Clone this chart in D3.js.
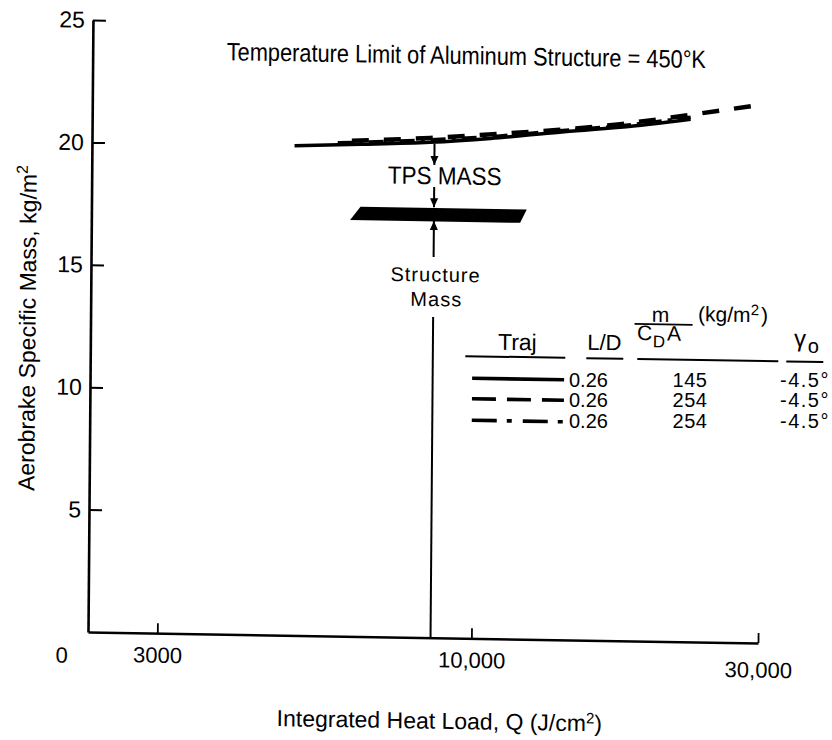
<!DOCTYPE html>
<html><head><meta charset="utf-8">
<script src="https://cdn.jsdelivr.net/npm/d3@7"></script>
<style>
body{margin:0;background:#fff}
svg text{font-family:"Liberation Sans",Arial,Helvetica,sans-serif;fill:#000}
</style>
</head><body>
<svg id="chart" width="832" height="740"></svg>
<script>
// ---------------- data ----------------
const xTickValues = [3000, 10000, 30000];
const xTickLabels = ["3000", "10,000", "30,000"];
const yTickValues = [5, 10, 15, 20, 25];

const solidQ = [5000, 6450, 8400, 10600, 13800, 17400, 22800];
const solidM = [20.0, 20.1, 20.23, 20.43, 20.73, 20.97, 21.35];
const dashedQ = [5900, 8400, 11000, 13800, 17400, 22800, 28700];
const dashedM = [20.21, 20.41, 20.63, 20.83, 21.1, 21.53, 21.92];
const dashDotQ = [5900, 8400, 11000, 13800, 17400, 22800];
const dashDotM = [20.15, 20.33, 20.54, 20.79, 21.03, 21.43];

const bandQ = [6450, 12200, 11900, 6200];
const bandM = [17.55, 17.55, 17.0, 17.0];

const designQ = 8550;
const designFrom = [20.16, 18.41, 15.55, 13.1];
const designTo   = [19.31, 17.58, 17.02, 0];
const designArrow = [true, true, true, false];

const legendStyles = ["solid", "dashed", "dashdot"];
const legendLD = ["0.26", "0.26", "0.26"];
const legendMass = ["145", "254", "254"];
const legendGamma = ["-4.5°", "-4.5°", "-4.5°"];

// ---------------- drawing ----------------
const FONT = '"Liberation Sans",Arial,Helvetica,sans-serif';
const svg = d3.select("#chart");
const defs = svg.append("defs");
defs.append("marker").attr("id", "arrow").attr("viewBox", "0 0 10 10")
  .attr("refX", 10).attr("refY", 5).attr("markerWidth", 9).attr("markerHeight", 9)
  .attr("markerUnits", "userSpaceOnUse").attr("orient", "auto")
  .append("path").attr("d", "M0,0.5 L10,5 L0,9.5 Z").attr("fill", "#000");

// slight skew of the scanned page
const B = 0.0164, C = -0.0081, OX = 88, OY = 632;
const g = svg.append("g")
  .attr("transform", `translate(${OX},${OY}) matrix(1,${B},${C},1,0,0) translate(${-OX},${-OY})`);

const x = d3.scaleLog().domain([2300, 30000]).range([88, 758]);
const y = d3.scaleLinear().domain([0, 25]).range([632, 20]);

function addText(parent, px, py, str, size, anchor, sy) {
  return parent.append("text")
    .attr("transform", `translate(${px},${py}) scale(1,${sy || 1})`)
    .attr("text-anchor", anchor || "start")
    .attr("font-size", size).text(str);
}

// axes
const xAxis = g.append("g").attr("transform", `translate(0,${y(0)})`)
  .call(d3.axisBottom(x).tickValues(xTickValues)
    .tickFormat((d, i) => xTickLabels[i]).tickSize(-10).tickSizeOuter(0).tickPadding(14))
  .attr("font-size", 22).attr("font-family", FONT);
xAxis.select(".domain").attr("stroke-width", 2.5);
xAxis.selectAll(".tick line").attr("stroke-width", 1.8);
xAxis.selectAll(".tick text").filter(d => d === 30000).attr("y", 19);

const yAxis = g.append("g").attr("transform", `translate(${x.range()[0]},0)`)
  .call(d3.axisLeft(y).tickValues(yTickValues).tickSize(-13).tickSizeOuter(0).tickPadding(8))
  .attr("font-size", 23).attr("font-family", FONT);
yAxis.select(".domain").attr("stroke-width", 2.6);
yAxis.selectAll(".tick line").attr("stroke-width", 2);

addText(g, 62, 663, "0", 22, "middle");

// axis titles
const xt = g.append("text").attr("x", 440).attr("y", 723).attr("text-anchor", "middle").attr("font-size", 23);
xt.append("tspan").text("Integrated Heat Load, Q (J/cm");
xt.append("tspan").attr("font-size", 15).attr("dy", -8).text("2");
xt.append("tspan").attr("dy", 8).text(")");

const yt = g.append("text").attr("transform", "translate(33,329) rotate(-90)")
  .attr("text-anchor", "middle").attr("font-size", 23);
yt.append("tspan").text("Aerobrake Specific Mass, kg/m");
yt.append("tspan").attr("font-size", 16).attr("dy", -9).text("2");

// title
addText(g, 222, 58, "Temperature Limit of Aluminum Structure = 450°K", 21.8, "start", 1.15);

// curves
const line = d3.line().x(d => x(d[0])).y(d => y(d[1])).curve(d3.curveMonotoneX);
g.append("path").datum(solidQ.map((q, i) => [q, solidM[i]])).attr("d", line)
  .attr("fill", "none").attr("stroke", "#000").attr("stroke-width", 3.5);
g.append("path").datum(dashDotQ.map((q, i) => [q, dashDotM[i]])).attr("d", line)
  .attr("fill", "none").attr("stroke", "#000").attr("stroke-width", 3.5)
  .attr("stroke-dasharray", "15,6,4,6");
const dashedPath = g.append("path").datum(dashedQ.map((q, i) => [q, dashedM[i]])).attr("d", line)
  .attr("fill", "none").attr("stroke", "#000").attr("stroke-width", 4.5)
  .attr("stroke-dasharray", "17,15");
{
  const L = dashedPath.node().getTotalLength();
  const P = 32;
  const off = ((17 - L) % P + P) % P;
  dashedPath.attr("stroke-dashoffset", off);
}

// structure-mass band
const bandLine = d3.line().x(d => x(d[0])).y(d => y(d[1]));
g.append("path").datum(bandQ.map((q, i) => [q, bandM[i]]))
  .attr("d", d => bandLine(d) + "Z").attr("fill", "#000");

// design line with arrows
designFrom.forEach((v, i) => {
  g.append("line").attr("x1", x(designQ)).attr("x2", x(designQ))
    .attr("y1", y(v)).attr("y2", y(designTo[i]))
    .attr("stroke", "#000").attr("stroke-width", 2)
    .attr("marker-end", designArrow[i] ? "url(#arrow)" : null);
});

addText(g, x(8900), y(18.87) + 8.5, "TPS MASS", 22.5, "middle", 1.1);
addText(g, x(8620), y(14.85) + 7.5, "Structure", 20, "middle").attr("letter-spacing", 1);
addText(g, x(8650), y(13.85) + 7.5, "Mass", 20, "middle").attr("letter-spacing", 1);

// legend (header)
addText(g, 515, 343, "Traj", 23, "middle");
addText(g, 602, 341.5, "L/D", 22, "middle");
addText(g, 658, 312.5, "m", 21, "middle");
g.append("line").attr("x1", 632).attr("x2", 690).attr("y1", 315).attr("y2", 315)
  .attr("stroke", "#000").attr("stroke-width", 1.8);
const cda = g.append("text").attr("font-size", 21);
cda.append("tspan").attr("x", 634.5).attr("y", 331).text("C");
cda.append("tspan").attr("x", 650.5).attr("y", 338).attr("font-size", 17).text("D");
cda.append("tspan").attr("x", 664.5).attr("y", 331).text("A");
const kg = g.append("text").attr("x", 695.5).attr("y", 311.3).attr("font-size", 21);
kg.append("tspan").text("(kg/m");
kg.append("tspan").attr("font-size", 15).attr("dy", -7).text("2");
kg.append("tspan").attr("dy", 7).attr("dx", 2).text(")");
addText(g, 797.5, 335, "γ", 24, "middle");
addText(g, 805.5, 341, "o", 20, "start");
[[463, 563], [584, 621], [635, 776], [784, 821]].forEach(s => {
  g.append("line").attr("x1", s[0]).attr("x2", s[1]).attr("y1", 350).attr("y2", 350)
    .attr("stroke", "#000").attr("stroke-width", 2);
});

// legend rows
const rowLineY = [372, 392.5, 414];
const dashes = {solid: null, dashed: "24,11", dashdot: "25,10,5,11"};
legendStyles.forEach((s, i) => {
  g.append("line").attr("x1", 470).attr("x2", 562).attr("y1", rowLineY[i]).attr("y2", rowLineY[i])
    .attr("stroke", "#000").attr("stroke-width", 3.6).attr("stroke-dasharray", dashes[s]);
});
const rowBase = [387, 407, 428];
const rows = svg.append("g");
legendLD.forEach((t, i) => addText(rows, 569, rowBase[i], t, 20, "start"));
legendMass.forEach((t, i) => addText(rows, 690, rowBase[i], t, 20, "middle").attr("letter-spacing", 0.5));
legendGamma.forEach((t, i) => addText(rows, 780, rowBase[i], t, 20, "start").attr("letter-spacing", 1.5));
</script>
</body></html>
